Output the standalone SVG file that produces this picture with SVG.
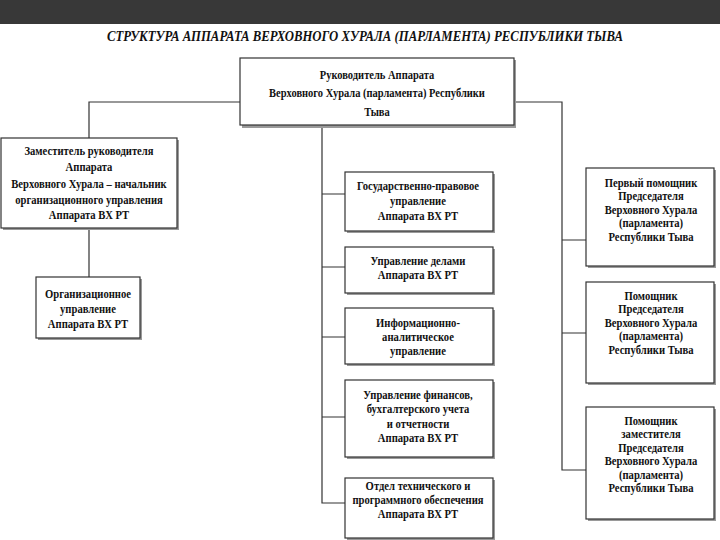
<svg xmlns="http://www.w3.org/2000/svg" width="720" height="540" viewBox="0 0 720 540">
<defs>
<style>
.box{fill:#fff;stroke:#333;stroke-width:1.2}
.sh{fill:#9a9a9a}
.t{font-family:"Liberation Serif","Times New Roman","DejaVu Serif",serif;font-weight:bold;font-size:12.5px;fill:#111;text-anchor:middle}
.ln{stroke:#333;stroke-width:1.2;fill:none}
</style>
</defs>
<rect x="0" y="0" width="720" height="24" fill="#383838"/>
<text x="365" y="41" font-family="'Liberation Serif','Times New Roman','DejaVu Serif',serif" font-weight="bold" font-style="italic" font-size="15" fill="#111" text-anchor="middle" textLength="516" lengthAdjust="spacingAndGlyphs">СТРУКТУРА  АППАРАТА ВЕРХОВНОГО ХУРАЛА (ПАРЛАМЕНТА) РЕСПУБЛИКИ ТЫВА</text>
<g id="connectors">
<path class="ln" d="M240 102H89V138M89 228V277"/>
<path class="ln" d="M514 102H562V470H587M562 240H587M562 333H587"/>
<path class="ln" d="M322 126V503H345M322 194H345M322 267H345M322 337H345M322 417H345"/>
</g>
<g id="head">
<rect class="sh" x="242" y="60" width="274" height="68"/>
<rect class="box" x="240" y="58" width="274" height="67"/>
<text class="t" transform="translate(377 0) scale(0.84 1)" font-size="14.5"><tspan x="0" y="79">Руководитель  Аппарата</tspan><tspan x="0" y="97">Верховного Хурала (парламента) Республики</tspan><tspan x="0" y="116">Тыва</tspan></text>
</g>
<g id="deputy">
<rect class="sh" x="3" y="140" width="176" height="90"/>
<rect class="box" x="1" y="138" width="176" height="90"/>
<text class="t" transform="translate(89 0) scale(0.85 1)"><tspan x="0" y="155">Заместитель руководителя</tspan><tspan x="0" y="171">Аппарата</tspan><tspan x="0" y="188">Верховного Хурала – начальник</tspan><tspan x="0" y="204">организационного управления</tspan><tspan x="0" y="219">Аппарата ВХ РТ</tspan></text>
</g>
<g id="org">
<rect class="sh" x="38" y="279" width="104" height="61"/>
<rect class="box" x="36" y="277" width="104" height="61"/>
<text class="t" transform="translate(88 0) scale(0.85 1)"><tspan x="0" y="298">Организационное</tspan><tspan x="0" y="313">управление</tspan><tspan x="0" y="328">Аппарата ВХ РТ</tspan></text>
</g>
<g id="gpu">
<rect class="sh" x="347" y="174" width="148" height="59"/>
<rect class="box" x="345" y="172" width="148" height="59"/>
<text class="t" transform="translate(418 0) scale(0.85 1)"><tspan x="0" y="190">Государственно-правовое</tspan><tspan x="0" y="205">управление</tspan><tspan x="0" y="220">Аппарата ВХ РТ</tspan></text>
</g>
<g id="ud">
<rect class="sh" x="347" y="249" width="148" height="46"/>
<rect class="box" x="345" y="247" width="148" height="46"/>
<text class="t" transform="translate(418 0) scale(0.85 1)"><tspan x="0" y="265">Управление делами</tspan><tspan x="0" y="279">Аппарата ВХ РТ</tspan></text>
</g>
<g id="iau">
<rect class="sh" x="347" y="310" width="148" height="56"/>
<rect class="box" x="345" y="308" width="148" height="56"/>
<text class="t" transform="translate(418 0) scale(0.85 1)"><tspan x="0" y="327">Информационно-</tspan><tspan x="0" y="341">аналитическое</tspan><tspan x="0" y="355">управление</tspan></text>
</g>
<g id="fin">
<rect class="sh" x="347" y="382" width="148" height="77"/>
<rect class="box" x="345" y="380" width="148" height="77"/>
<text class="t" transform="translate(418 0) scale(0.85 1)"><tspan x="0" y="399">Управление финансов,</tspan><tspan x="0" y="413">бухгалтерского учета</tspan><tspan x="0" y="428">и отчетности</tspan><tspan x="0" y="442">Аппарата ВХ РТ</tspan></text>
</g>
<g id="tech">
<rect class="sh" x="347" y="480" width="148" height="60"/>
<rect class="box" x="345" y="478" width="148" height="60"/>
<text class="t" transform="translate(418 0) scale(0.85 1)"><tspan x="0" y="490">Отдел технического и</tspan><tspan x="0" y="504">программного обеспечения</tspan><tspan x="0" y="518">Аппарата ВХ РТ</tspan></text>
</g>
<g id="asst1">
<rect class="sh" x="588" y="170" width="128" height="98"/>
<rect class="box" x="586" y="168" width="128" height="98"/>
<text class="t" transform="translate(651 0) scale(0.85 1)"><tspan x="0" y="187">Первый помощник</tspan><tspan x="0" y="200">Председателя</tspan><tspan x="0" y="214">Верховного Хурала</tspan><tspan x="0" y="227">(парламента)</tspan><tspan x="0" y="241">Республики Тыва</tspan></text>
</g>
<g id="asst2">
<rect class="sh" x="588" y="284" width="128" height="101"/>
<rect class="box" x="586" y="282" width="128" height="101"/>
<text class="t" transform="translate(651 0) scale(0.85 1)"><tspan x="0" y="300">Помощник</tspan><tspan x="0" y="313">Председателя</tspan><tspan x="0" y="327">Верховного Хурала</tspan><tspan x="0" y="340">(парламента)</tspan><tspan x="0" y="354">Республики Тыва</tspan></text>
</g>
<g id="asst3">
<rect class="sh" x="588" y="409" width="128" height="112"/>
<rect class="box" x="586" y="407" width="128" height="112"/>
<text class="t" transform="translate(651 0) scale(0.85 1)"><tspan x="0" y="425">Помощник</tspan><tspan x="0" y="438">заместителя</tspan><tspan x="0" y="452">Председателя</tspan><tspan x="0" y="465">Верховного Хурала</tspan><tspan x="0" y="479">(парламента)</tspan><tspan x="0" y="492">Республики Тыва</tspan></text>
</g>
</svg>
